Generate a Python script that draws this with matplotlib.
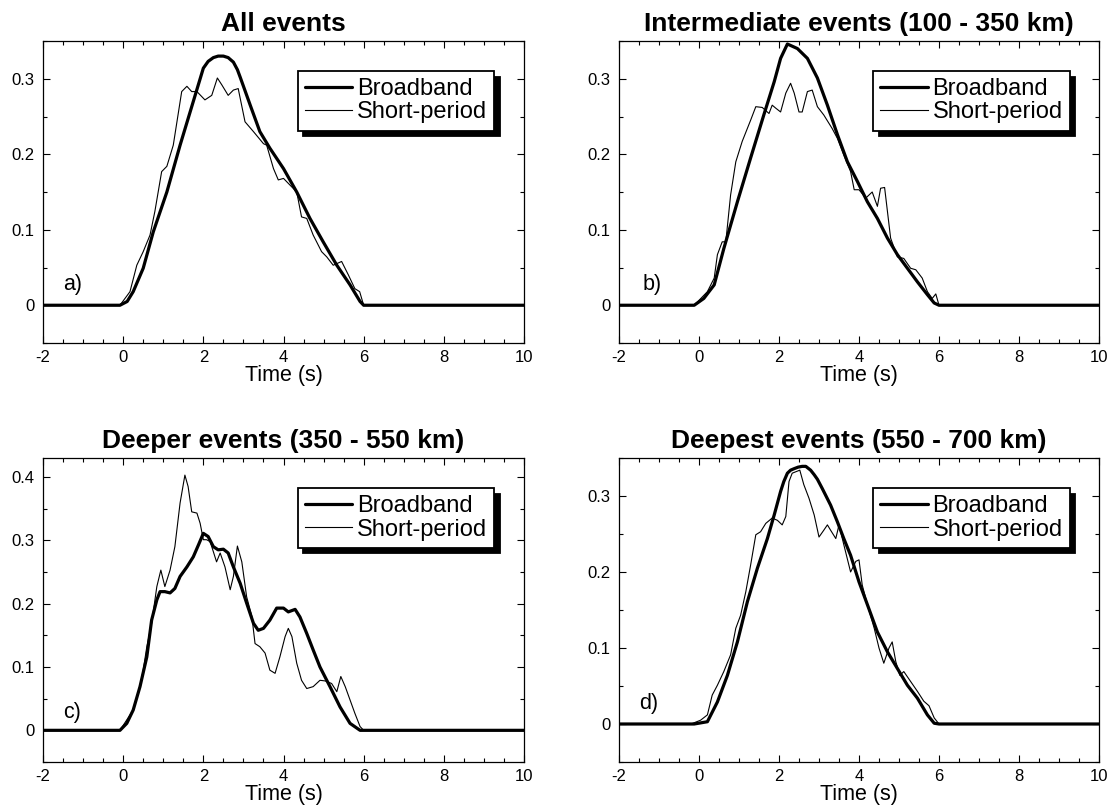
import matplotlib
matplotlib.use("Agg")
import matplotlib.pyplot as plt
from matplotlib.ticker import MultipleLocator, FuncFormatter

plt.rcParams['font.family'] = ['Liberation Sans', 'DejaVu Sans']
plt.rcParams['axes.unicode_minus'] = False

titles = ["All events", "Intermediate events (100 - 350 km)",
          "Deeper events (350 - 550 km)", "Deepest events (550 - 700 km)"]
panel_letters = ["a)", "b)", "c)", "d)"]
series_names = ["Broadband", "Short-period"]

# ---- panel a ----
a_t_bb = [-2, -0.08, 0.1, 0.25, 0.5, 0.75, 1.09, 1.42, 1.75, 2.0, 2.12, 2.25, 2.37, 2.5, 2.62, 2.75, 2.85, 2.92, 3.17, 3.41, 3.66, 4.0, 4.33, 4.66, 4.99, 5.33, 5.66, 5.91, 6.0, 10]
a_v_bb = [0, 0, 0.005, 0.018, 0.049, 0.097, 0.150, 0.212, 0.270, 0.314, 0.323, 0.328, 0.330, 0.330, 0.328, 0.322, 0.312, 0.302, 0.265, 0.230, 0.208, 0.181, 0.150, 0.115, 0.084, 0.053, 0.027, 0.005, 0, 0]
a_t_sp = [-2, -0.08, 0.17, 0.34, 0.5, 0.67, 0.79, 0.96, 1.09, 1.25, 1.46, 1.59, 1.71, 1.84, 2.04, 2.21, 2.35, 2.46, 2.62, 2.75, 2.87, 3.04, 3.25, 3.5, 3.58, 3.75, 3.87, 4.0, 4.33, 4.45, 4.58, 4.74, 4.95, 5.08, 5.24, 5.45, 5.62, 5.78, 5.9, 6.0, 10]
a_v_sp = [0, 0, 0.018, 0.053, 0.071, 0.093, 0.124, 0.177, 0.184, 0.212, 0.283, 0.290, 0.283, 0.283, 0.272, 0.278, 0.301, 0.292, 0.278, 0.285, 0.287, 0.243, 0.230, 0.214, 0.212, 0.181, 0.166, 0.168, 0.150, 0.117, 0.115, 0.093, 0.071, 0.064, 0.053, 0.058, 0.040, 0.022, 0.018, 0, 0]

# ---- panel b ----
b_t_bb = [-2, -0.12, 0.12, 0.38, 0.62, 0.96, 1.29, 1.62, 1.88, 2.04, 2.21, 2.46, 2.71, 2.96, 3.21, 3.46, 3.71, 3.96, 4.21, 4.46, 4.71, 4.96, 5.21, 5.46, 5.71, 5.88, 6.0, 10]
b_v_bb = [0, 0, 0.009, 0.027, 0.075, 0.137, 0.195, 0.252, 0.296, 0.327, 0.346, 0.340, 0.327, 0.301, 0.265, 0.226, 0.190, 0.164, 0.137, 0.115, 0.089, 0.067, 0.049, 0.031, 0.014, 0.003, 0, 0]
b_t_sp = [-2, -0.12, 0.21, 0.38, 0.46, 0.58, 0.67, 0.79, 0.92, 1.08, 1.29, 1.42, 1.58, 1.75, 1.83, 1.92, 2.04, 2.17, 2.29, 2.38, 2.5, 2.58, 2.71, 2.83, 2.96, 3.12, 3.33, 3.46, 3.62, 3.79, 3.88, 4.0, 4.17, 4.33, 4.46, 4.54, 4.64, 4.79, 4.96, 5.12, 5.29, 5.42, 5.58, 5.71, 5.83, 5.92, 6.0, 10]
b_v_sp = [0, 0, 0.018, 0.036, 0.067, 0.084, 0.084, 0.146, 0.190, 0.217, 0.245, 0.263, 0.262, 0.254, 0.265, 0.261, 0.256, 0.281, 0.294, 0.281, 0.256, 0.256, 0.283, 0.285, 0.263, 0.252, 0.234, 0.221, 0.199, 0.177, 0.153, 0.153, 0.142, 0.150, 0.131, 0.155, 0.156, 0.089, 0.064, 0.062, 0.049, 0.047, 0.036, 0.018, 0.009, 0.015, 0, 0]

# ---- panel c ----
c_t_bb = [-2, -0.08, 0.09, 0.25, 0.42, 0.59, 0.71, 0.84, 0.92, 1.04, 1.17, 1.29, 1.42, 1.59, 1.75, 1.88, 2.0, 2.12, 2.25, 2.37, 2.5, 2.62, 2.75, 2.92, 3.08, 3.25, 3.37, 3.5, 3.66, 3.83, 4.0, 4.12, 4.29, 4.41, 4.58, 4.74, 4.91, 5.16, 5.41, 5.66, 5.91, 6.0, 10]
c_v_bb = [0, 0, 0.011, 0.032, 0.069, 0.116, 0.174, 0.206, 0.219, 0.219, 0.217, 0.224, 0.243, 0.258, 0.274, 0.293, 0.311, 0.306, 0.290, 0.285, 0.286, 0.280, 0.258, 0.232, 0.201, 0.169, 0.158, 0.161, 0.174, 0.193, 0.193, 0.187, 0.191, 0.179, 0.153, 0.127, 0.100, 0.069, 0.037, 0.011, 0, 0, 0]
c_t_sp = [-2, -0.08, 0.25, 0.42, 0.5, 0.59, 0.71, 0.84, 0.94, 1.04, 1.17, 1.29, 1.42, 1.54, 1.62, 1.71, 1.84, 1.92, 2.0, 2.08, 2.17, 2.33, 2.42, 2.54, 2.67, 2.75, 2.85, 2.96, 3.08, 3.21, 3.29, 3.41, 3.54, 3.66, 3.79, 3.91, 4.04, 4.12, 4.21, 4.33, 4.45, 4.58, 4.74, 4.91, 5.04, 5.2, 5.33, 5.43, 5.54, 5.66, 5.78, 5.91, 6.0, 10]
c_v_sp = [0, 0, 0.032, 0.069, 0.095, 0.132, 0.169, 0.227, 0.253, 0.227, 0.253, 0.290, 0.359, 0.403, 0.385, 0.345, 0.343, 0.327, 0.301, 0.301, 0.298, 0.266, 0.280, 0.258, 0.222, 0.243, 0.291, 0.266, 0.211, 0.180, 0.137, 0.132, 0.122, 0.095, 0.090, 0.116, 0.148, 0.161, 0.148, 0.106, 0.079, 0.066, 0.069, 0.079, 0.078, 0.074, 0.061, 0.085, 0.069, 0.048, 0.027, 0.006, 0, 0]

# ---- panel d ----
d_t_bb = [-2, -0.12, 0.21, 0.46, 0.71, 0.96, 1.21, 1.46, 1.71, 1.88, 2.04, 2.12, 2.21, 2.29, 2.38, 2.48, 2.58, 2.67, 2.79, 2.88, 2.96, 3.08, 3.29, 3.46, 3.62, 3.79, 4.0, 4.21, 4.46, 4.71, 4.96, 5.21, 5.46, 5.71, 5.88, 6.0, 10]
d_v_bb = [0, 0, 0.003, 0.029, 0.064, 0.108, 0.161, 0.205, 0.244, 0.275, 0.306, 0.319, 0.330, 0.334, 0.336, 0.338, 0.339, 0.339, 0.334, 0.328, 0.322, 0.310, 0.288, 0.266, 0.244, 0.222, 0.187, 0.157, 0.121, 0.095, 0.073, 0.051, 0.034, 0.012, 0.001, 0, 0]
d_t_sp = [-2, -0.2, 0.04, 0.21, 0.33, 0.46, 0.62, 0.79, 0.92, 1.04, 1.17, 1.29, 1.42, 1.54, 1.67, 1.83, 1.96, 2.08, 2.17, 2.25, 2.33, 2.52, 2.62, 2.75, 2.88, 3.0, 3.12, 3.21, 3.29, 3.42, 3.5, 3.62, 3.79, 3.92, 4.0, 4.08, 4.21, 4.38, 4.5, 4.62, 4.75, 4.83, 4.92, 5.02, 5.12, 5.29, 5.46, 5.62, 5.75, 5.88, 6.0, 10]
d_v_sp = [0, 0, 0.005, 0.012, 0.038, 0.051, 0.069, 0.091, 0.126, 0.143, 0.174, 0.209, 0.249, 0.253, 0.264, 0.271, 0.268, 0.262, 0.273, 0.319, 0.330, 0.334, 0.315, 0.297, 0.275, 0.246, 0.255, 0.262, 0.255, 0.244, 0.262, 0.236, 0.200, 0.214, 0.216, 0.183, 0.157, 0.126, 0.100, 0.080, 0.100, 0.108, 0.082, 0.064, 0.069, 0.056, 0.043, 0.030, 0.024, 0.008, 0, 0]

x_limits = (-2, 10)
y_limits = [(-0.05, 0.35), (-0.05, 0.35), (-0.05, 0.43), (-0.05, 0.35)]
x_label = "Time (s)"

panels = [
    (a_t_bb, a_v_bb, a_t_sp, a_v_sp),
    (b_t_bb, b_v_bb, b_t_sp, b_v_sp),
    (c_t_bb, c_v_bb, c_t_sp, c_v_sp),
    (d_t_bb, d_v_bb, d_t_sp, d_v_sp),
]

W, H = 1112, 808
fig = plt.figure(figsize=(W / 100, H / 100), dpi=100)
boxes = [(43, 41, 524, 343), (619, 41, 1099, 343),
         (43, 458, 524, 762), (619, 458, 1099, 762)]
letter_x = [-1.5, -1.4, -1.5, -1.5]

fmt = FuncFormatter(lambda v, p: "0" if abs(v) < 1e-9 else f"{v:g}")

for i, (tb, vb, ts, vs) in enumerate(panels):
    l, t, r, b = boxes[i]
    ax = fig.add_axes([l / W, 1 - b / H, (r - l) / W, (b - t) / H])
    ax.plot(tb, vb, color='black', lw=2.3, label=series_names[0],
            solid_joinstyle='round', solid_capstyle='round')
    ax.plot(ts, vs, color='black', lw=0.8, label=series_names[1])
    ax.set_xlim(*x_limits)
    ax.set_ylim(*y_limits[i])
    ax.xaxis.set_major_locator(MultipleLocator(2))
    ax.xaxis.set_minor_locator(MultipleLocator(0.5))
    ax.yaxis.set_major_locator(MultipleLocator(0.1))
    ax.yaxis.set_minor_locator(MultipleLocator(0.05))
    ax.yaxis.set_major_formatter(fmt)
    ax.tick_params(which='both', direction='in', top=True, right=True,
                   labelsize=12, width=0.8)
    ax.tick_params(axis='x', which='both', pad=5)
    ax.tick_params(axis='y', which='both', pad=6)
    ax.tick_params(which='major', length=5)
    ax.tick_params(which='minor', length=3)
    for s in ax.spines.values():
        s.set_linewidth(0.9)
    ax.set_xlabel(x_label, fontsize=15.5, labelpad=0)
    ax.set_title(titles[i], fontsize=19, fontweight='bold', pad=7)
    ax.text(letter_x[i], 0.02, panel_letters[i], fontsize=15.5, ha='left', va='baseline')
    leg = ax.legend(loc='upper left', bbox_to_anchor=(0.53, 0.90), borderaxespad=0,
                    fontsize=17, handlelength=2.0, handletextpad=0.2,
                    labelspacing=0.05, borderpad=0.3, fancybox=False,
                    framealpha=1, edgecolor='black',
                    shadow={'ox': 4, 'oy': -4, 'color': 'black', 'alpha': 1})
    leg.get_frame().set_linewidth(1.3)

fig.savefig("out.png", dpi=100)
